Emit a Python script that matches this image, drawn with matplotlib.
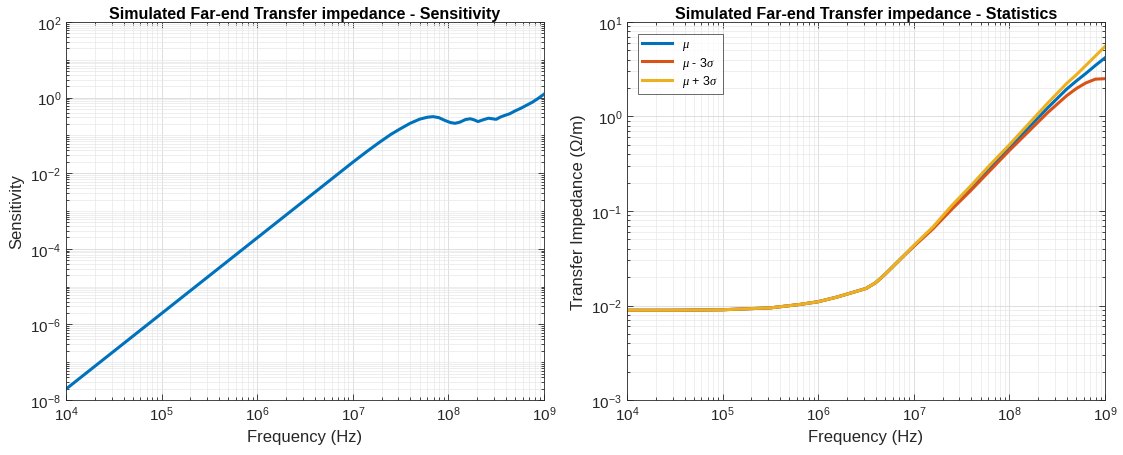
import numpy as np
import matplotlib
matplotlib.use("Agg")
import matplotlib.pyplot as plt
from matplotlib.ticker import LogLocator, FixedLocator, NullFormatter

plt.rcParams['font.family'] = ['Liberation Sans', 'DejaVu Sans']
plt.rcParams['mathtext.fontset'] = 'custom'
plt.rcParams['mathtext.it'] = 'Liberation Serif:italic'

# Sensitivity (left), frequency given as log10(Hz)
sens_fexp = [4.0, 4.5, 5.0, 5.5, 6.0, 6.5, 7.0, 7.15, 7.28, 7.4, 7.5, 7.6,
             7.7, 7.78, 7.84, 7.9, 7.96, 8.02, 8.07, 8.12, 8.18, 8.23, 8.27, 8.31,
             8.36, 8.42, 8.46, 8.5, 8.54, 8.58, 8.64, 8.7, 8.76, 8.82, 8.88, 8.94, 9.0]
sensitivity = [1.95e-8, 1.95e-7, 1.95e-6, 1.95e-5, 1.95e-4, 1.95e-3, 0.0195,
               0.038, 0.066, 0.107, 0.151, 0.209, 0.269, 0.302, 0.313, 0.295, 0.251,
               0.219, 0.209, 0.224, 0.263, 0.275, 0.257, 0.232, 0.257, 0.285, 0.275,
               0.266, 0.302, 0.331, 0.372, 0.447, 0.525, 0.631, 0.759, 0.955, 1.23]

# Statistics (right), log10 of frequency and of impedance
stat_fexp = [4.0, 4.5, 5.0, 5.5, 5.8, 6.0, 6.2, 6.4, 6.5, 6.6, 6.7, 6.8, 6.9, 7.0,
             7.2, 7.4, 7.6, 7.8, 8.0, 8.2, 8.4, 8.6, 8.7, 8.8, 8.9, 9.0]
mu_exp = [-2.05, -2.05, -2.045, -2.025, -1.99, -1.96, -1.91, -1.85, -1.82, -1.76,
          -1.67, -1.57, -1.47, -1.37, -1.18, -0.96, -0.75, -0.54, -0.33, -0.12,
          0.09, 0.29, 0.375, 0.455, 0.54, 0.62]
mu_minus_exp = [-2.05, -2.05, -2.045, -2.025, -1.99, -1.96, -1.91, -1.85, -1.82, -1.76,
                -1.67, -1.57, -1.47, -1.375, -1.19, -0.98, -0.78, -0.57, -0.36, -0.16,
                0.04, 0.22, 0.295, 0.355, 0.395, 0.40]
mu_plus_exp = [-2.05, -2.05, -2.045, -2.025, -1.99, -1.96, -1.91, -1.85, -1.82, -1.76,
               -1.67, -1.57, -1.47, -1.365, -1.17, -0.94, -0.73, -0.51, -0.30, -0.08,
               0.14, 0.35, 0.44, 0.54, 0.64, 0.74]

blue = '#0072BD'
red = '#D95319'
yellow = '#EDB120'

fig = plt.figure(figsize=(11.23, 4.56), dpi=100)
ax1 = fig.add_axes([0.0588, 0.1206, 0.4256, 0.829])
ax2 = fig.add_axes([0.5583, 0.1206, 0.4256, 0.829])


def style(ax, ymin, ymax, ystep):
    ax.set_xscale('log')
    ax.set_yscale('log')
    ax.set_xlim(1e4, 1e9)
    ax.set_ylim(ymin, ymax)
    ax.xaxis.set_major_locator(FixedLocator([10.0 ** k for k in range(4, 10)]))
    ax.xaxis.set_minor_locator(LogLocator(base=10, subs=np.arange(2, 10), numticks=50))
    ax.yaxis.set_major_locator(FixedLocator([10.0 ** k for k in range(int(np.log10(ymin)), int(np.log10(ymax)) + 1, ystep)]))
    ax.yaxis.set_minor_locator(LogLocator(base=10, subs=np.arange(1, 10), numticks=50))
    ax.yaxis.set_minor_formatter(NullFormatter())
    ax.xaxis.set_minor_formatter(NullFormatter())
    ax.grid(True, which='major', color='#d9d9d9', linewidth=0.6)
    ax.grid(True, which='minor', color='#e8e8e8', linewidth=0.5)
    ax.set_axisbelow(True)
    ax.tick_params(which='both', direction='in', top=True, right=True,
                   colors='#262626', labelsize=11, width=0.6)
    ax.tick_params(which='major', length=4)
    ax.tick_params(which='minor', length=2)
    for s in ax.spines.values():
        s.set_color('#262626')
        s.set_linewidth(0.6)
    ax.set_xlabel('Frequency (Hz)', fontsize=12, color='#262626')


style(ax1, 1e-8, 1e2, 2)
ax1.plot(10 ** np.array(sens_fexp), sensitivity, color=blue, linewidth=2.2)
ax1.set_ylabel('Sensitivity', fontsize=12, color='#262626')
ax1.set_title('Simulated Far-end Transfer impedance - Sensitivity',
              fontsize=11.5, fontweight='bold', pad=3)

style(ax2, 1e-3, 1e1, 1)
f2 = 10 ** np.array(stat_fexp)
ax2.plot(f2, 10 ** np.array(mu_exp), color=blue, linewidth=2.2, label=r'$\mu$')
ax2.plot(f2, 10 ** np.array(mu_minus_exp), color=red, linewidth=2.2, label=r'$\mu$ - 3$\sigma$')
ax2.plot(f2, 10 ** np.array(mu_plus_exp), color=yellow, linewidth=2.2, label=r'$\mu$ + 3$\sigma$')
ax2.set_ylabel('Transfer Impedance (\u03a9/m)', fontsize=12, color='#262626')
ax2.set_title('Simulated Far-end Transfer impedance - Statistics',
              fontsize=11.5, fontweight='bold', pad=3)
leg = ax2.legend(loc='upper left', fontsize=9, frameon=True, fancybox=False,
                 handlelength=2.4, borderpad=0.35, labelspacing=0.2,
                 bbox_to_anchor=(0.01, 0.985))
leg.get_frame().set_edgecolor('#262626')
leg.get_frame().set_linewidth(0.6)

fig.savefig('out.png', dpi=100)
